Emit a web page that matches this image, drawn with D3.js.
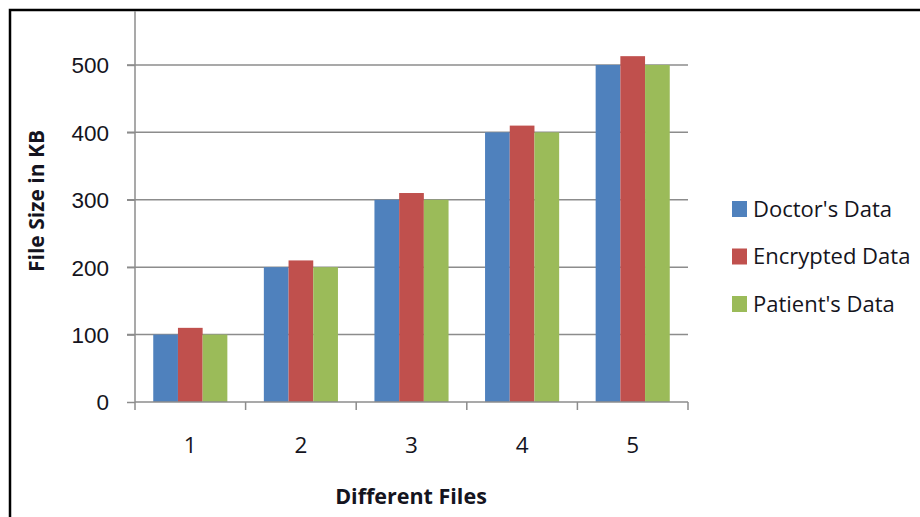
<!DOCTYPE html>
<html>
<head>
<meta charset="utf-8">
<script src="https://cdn.jsdelivr.net/npm/d3@7"></script>
<style>
  body { margin: 0; background: #fff; }
  svg { display: block; font-family: "Open Sans", sans-serif; }
</style>
</head>
<body>
<div class="chart"></div>
<script>
const files = ['1', '2', '3', '4', '5'];
const seriesNames = ["Doctor's Data", 'Encrypted Data', "Patient's Data"];
const colors = ['#4F81BD', '#C0504D', '#9BBB59'];
const doctor = [100, 200, 300, 400, 500];
const encrypted = [110, 210, 310, 410, 513];
const patient = [100, 200, 300, 400, 500];
const yTicks = [0, 100, 200, 300, 400, 500];

const values = [doctor, encrypted, patient];
const data = files.map((f, i) => ({
  file: f,
  vals: seriesNames.map((s, j) => ({ key: s, color: colors[j], value: values[j][i] }))
}));

const W = 920, H = 517;
const plot = { left: 135, right: 688, top: 11, bottom: 402 };

const svg = d3.select('.chart')
  .append('svg')
  .attr('width', W)
  .attr('height', H);

// outer frame
svg.append('rect')
  .attr('x', 10).attr('y', 10)
  .attr('width', W).attr('height', H)
  .attr('fill', 'none')
  .attr('stroke', '#000')
  .attr('stroke-width', 2.5);

const yScale = d3.scaleLinear()
  .domain([0, 580])
  .range([plot.bottom, plot.top]);

const xScale = d3.scaleBand()
  .domain(files)
  .range([plot.left, plot.right])
  .paddingInner(0.33)
  .paddingOuter(0.165);

const inner = d3.scaleBand()
  .domain(seriesNames)
  .range([0, xScale.bandwidth()]);

// gridlines
svg.append('g')
  .selectAll('line')
  .data(yTicks.slice(1))
  .enter()
  .append('line')
  .attr('x1', plot.left - 8)
  .attr('x2', plot.right)
  .attr('y1', d => yScale(d))
  .attr('y2', d => yScale(d))
  .attr('stroke', '#8c8c8c')
  .attr('stroke-width', 1.5);

// bars
const groups = svg.selectAll('.group')
  .data(data)
  .enter()
  .append('g')
  .attr('class', 'group')
  .attr('transform', d => `translate(${xScale(d.file)}, 0)`);

groups.selectAll('rect')
  .data(d => d.vals)
  .enter()
  .append('rect')
  .attr('x', d => inner(d.key))
  .attr('width', inner.bandwidth())
  .attr('y', d => yScale(d.value))
  .attr('height', d => yScale(0) - yScale(d.value))
  .attr('fill', d => d.color);

// y axis
const yAxis = d3.axisLeft(yScale)
  .tickValues(yTicks)
  .tickSize(8)
  .tickPadding(18);

const gy = svg.append('g')
  .attr('transform', `translate(${plot.left}, 0)`)
  .call(yAxis);
gy.select('.domain').remove();
gy.append('line')
  .attr('x1', 0).attr('x2', 0)
  .attr('y1', plot.top).attr('y2', plot.bottom)
  .attr('stroke', '#8c8c8c')
  .attr('stroke-width', 1.5);
gy.selectAll('.tick line').attr('stroke', '#8c8c8c').attr('stroke-width', 1.5);
gy.selectAll('.tick text')
  .attr('fill', '#141420')
  .style('font-size', '22.5px')
  .attr('dy', '0.35em');

// x axis
const xEdges = d3.range(files.length + 1)
  .map(i => plot.left + i * (plot.right - plot.left) / files.length);

const gx = svg.append('g');
gx.append('line')
  .attr('x1', plot.left).attr('x2', plot.right)
  .attr('y1', plot.bottom).attr('y2', plot.bottom)
  .attr('stroke', '#8c8c8c')
  .attr('stroke-width', 1.5);
gx.selectAll('.xt')
  .data(xEdges)
  .enter()
  .append('line')
  .attr('class', 'xt')
  .attr('x1', d => d).attr('x2', d => d)
  .attr('y1', plot.bottom).attr('y2', plot.bottom + 8)
  .attr('stroke', '#8c8c8c')
  .attr('stroke-width', 1.5);
gx.selectAll('.xl')
  .data(files)
  .enter()
  .append('text')
  .attr('class', 'xl')
  .attr('x', d => xScale(d) + xScale.bandwidth() / 2)
  .attr('y', 453)
  .attr('text-anchor', 'middle')
  .attr('fill', '#141420')
  .style('font-size', '22.5px')
  .text(d => d);

// axis titles
svg.append('text')
  .attr('x', 411)
  .attr('y', 504)
  .attr('text-anchor', 'middle')
  .attr('fill', '#141420')
  .style('font-size', '21.5px')
  .style('font-weight', 'bold')
  .text('Different Files');

svg.append('text')
  .attr('transform', 'translate(44, 201) rotate(-90)')
  .attr('text-anchor', 'middle')
  .attr('fill', '#141420')
  .style('font-size', '21px')
  .style('font-weight', 'bold')
  .text('File Size  in KB');

// legend
const legend = svg.selectAll('.legend')
  .data(seriesNames)
  .enter()
  .append('g')
  .attr('class', 'legend')
  .attr('transform', (d, i) => `translate(732, ${209 + i * 47.5})`);

legend.append('rect')
  .attr('x', 0).attr('y', -8)
  .attr('width', 15).attr('height', 16)
  .attr('fill', (d, i) => colors[i]);

legend.append('text')
  .attr('x', 21)
  .attr('y', 0)
  .attr('dy', '0.35em')
  .attr('fill', '#141420')
  .style('font-size', '22px')
  .text(d => d);
</script>
</body>
</html>
